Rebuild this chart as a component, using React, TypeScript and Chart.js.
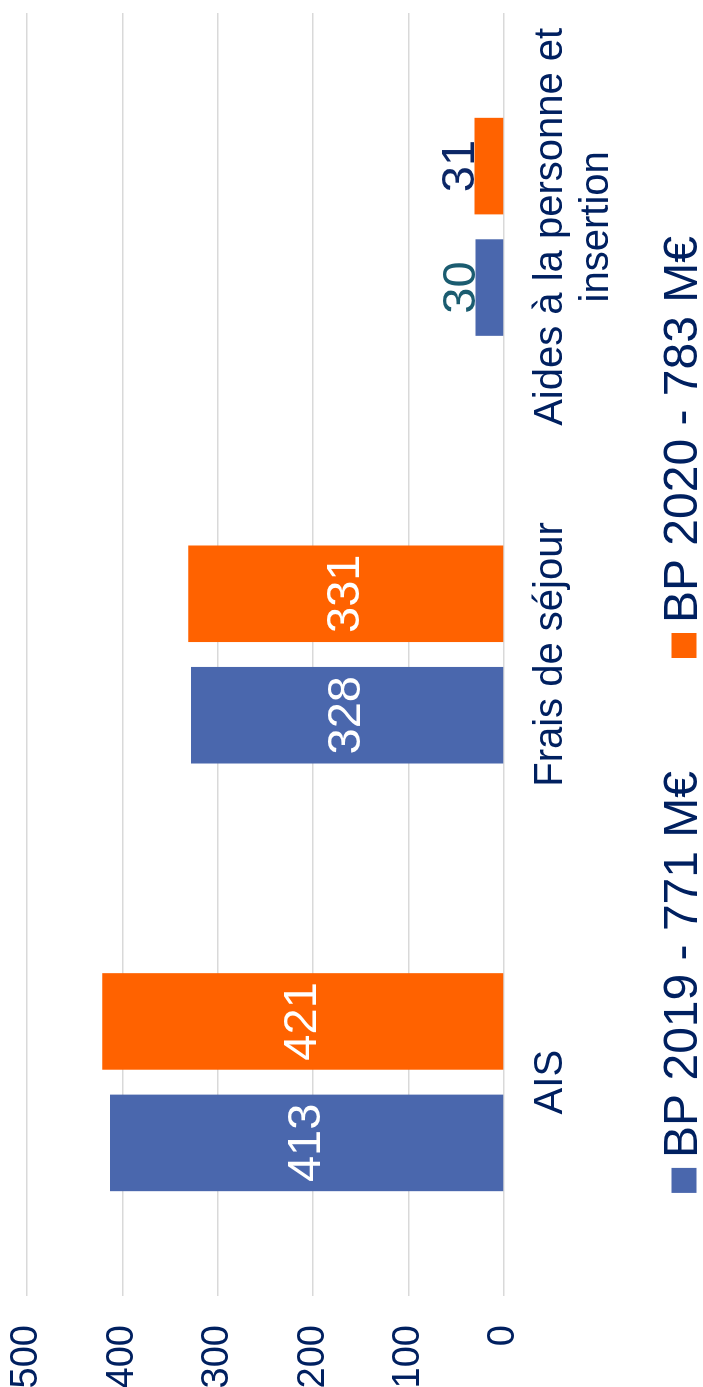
import React, { useEffect, useRef } from "react";
import { Chart, registerables } from "chart.js";

Chart.register(...registerables);

const FONT = '"Liberation Sans", Arial, sans-serif';
const TEXT = "#002060";

const categories: (string | string[])[] = ["AIS", "Frais de séjour", ["Aides à la personne et", "insertion"]];
const seriesNames = ["BP 2019 - 771 M€", "BP 2020 - 783 M€"];
const bp2019 = [413, 328, 30];
const bp2020 = [421, 331, 31];
const seriesColors = ["#4A67AD", "#FF6200"];
const outsideLabelColors = ["#1B5C70", "#0C2766"];
const yMin = 0;
const yMax = 500;
const yStep = 100;

const W = 1387;
const H = 703;

const dataLabelPlugin = {
  id: "dataLabels",
  afterDatasetsDraw(chart: any) {
    const ctx = chart.ctx;
    ctx.save();
    ctx.font = `47px ${FONT}`;
    ctx.textAlign = "center";
    chart.data.datasets.forEach((ds: any, di: number) => {
      const meta = chart.getDatasetMeta(di);
      meta.data.forEach((el: any, i: number) => {
        const v = ds.data[i];
        const h = el.base - el.y;
        if (h > 80) {
          ctx.fillStyle = "#FFFFFF";
          ctx.textBaseline = "middle";
          ctx.fillText(String(v), el.x, (el.y + el.base) / 2);
        } else {
          ctx.fillStyle = outsideLabelColors[di];
          ctx.textBaseline = "alphabetic";
          ctx.fillText(String(v), el.x, el.y);
        }
      });
    });
    ctx.restore();
  },
};

const legendPlugin = {
  id: "customLegend",
  afterDraw(chart: any) {
    const ctx = chart.ctx;
    ctx.save();
    ctx.font = `48px ${FONT}`;
    const box = 25;
    const gap = 10;
    const itemGap = 113;
    const widths = seriesNames.map((n) => ctx.measureText(n).width);
    const total = widths.reduce((a, w) => a + box + gap + w, 0) + itemGap * (seriesNames.length - 1);
    let x = chart.width / 2 - 21 - total / 2;
    const cy = chart.height - 19;
    seriesNames.forEach((name, i) => {
      ctx.fillStyle = seriesColors[i];
      ctx.fillRect(x, cy - box / 2, box, box);
      x += box + gap;
      ctx.fillStyle = TEXT;
      ctx.textAlign = "left";
      ctx.textBaseline = "middle";
      ctx.fillText(name, x, cy);
      x += widths[i] + itemGap;
    });
    ctx.restore();
  },
};

export default function App() {
  const ref = useRef<HTMLCanvasElement | null>(null);

  useEffect(() => {
    if (!ref.current) return;
    const chart = new Chart(ref.current, {
      type: "bar",
      data: {
        labels: categories as any,
        datasets: [
          {
            label: seriesNames[0],
            data: bp2019,
            backgroundColor: seriesColors[0],
            categoryPercentage: 0.568,
            barPercentage: 0.795,
          },
          {
            label: seriesNames[1],
            data: bp2020,
            backgroundColor: seriesColors[1],
            categoryPercentage: 0.568,
            barPercentage: 0.795,
          },
        ],
      },
      options: {
        responsive: false,
        animation: false,
        devicePixelRatio: 1,
        layout: { padding: { left: 0, right: 13, top: 27, bottom: 83 } },
        plugins: {
          legend: { display: false },
          tooltip: { enabled: false },
        },
        scales: {
          x: {
            grid: { display: false, drawTicks: false },
            border: { display: false },
            ticks: {
              color: TEXT,
              font: { family: FONT, size: 40, lineHeight: 1.15 },
              padding: 24,
              maxRotation: 0,
              minRotation: 0,
              autoSkip: false,
            },
            afterFit: (s: any) => {
              s.height = 116;
              s.paddingLeft = 0;
              s.paddingRight = 0;
            },
          },
          y: {
            min: yMin,
            max: yMax,
            grid: { color: "#D9D9D9", lineWidth: 1.5, drawTicks: false },
            border: { display: false },
            ticks: {
              stepSize: yStep,
              color: TEXT,
              font: { family: FONT, size: 38 },
              padding: 29,
            },
            afterFit: (s: any) => {
              s.width = 91;
              s.paddingTop = 0;
              s.paddingBottom = 0;
            },
          },
        },
      },
      plugins: [dataLabelPlugin, legendPlugin],
    });
    return () => chart.destroy();
  }, []);

  return (
    <div style={{ position: "absolute", left: 0, top: 0, width: H, height: W, overflow: "hidden", background: "#fff" }}>
      <div
        style={{
          position: "absolute",
          left: 0,
          top: 0,
          width: W,
          height: H,
          transformOrigin: "0 0",
          transform: `translate(0px, ${W}px) rotate(-90deg)`,
        }}
      >
        <canvas ref={ref} width={W} height={H} style={{ width: W, height: H, display: "block" }} />
      </div>
    </div>
  );
}
